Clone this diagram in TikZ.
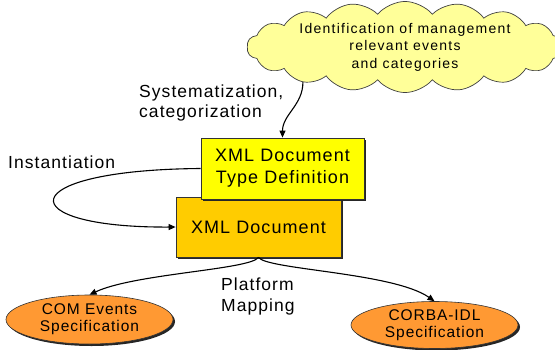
\documentclass[tikz,border=0pt]{standalone}
\usepackage{fontspec}
\setmainfont{Liberation Sans}
\newfontfamily\lblfont{Liberation Sans}[LetterSpace=6]
\newfontfamily\cloudfont{Liberation Sans}[LetterSpace=9]
\usetikzlibrary{shapes.geometric,shapes.symbols,arrows.meta,shadows}
\definecolor{cloudyellow}{HTML}{FFFF99}
\definecolor{dtdyellow}{HTML}{FFFF00}
\definecolor{docorange}{HTML}{FFCC00}
\definecolor{specorange}{HTML}{FF9933}
\begin{document}
\begin{tikzpicture}[x=1pt,y=1pt,
  boxshadow/.style={drop shadow={shadow xshift=2pt,shadow yshift=-2pt,opacity=1,fill=black!85}},
  docbox/.style={rectangle, draw=black!80, line width=0.8pt, inner sep=0pt, align=center,
    font=\lblfont\fontsize{18}{22}\selectfont, boxshadow},
  specnode/.style={ellipse, draw=black!80, line width=0.6pt, fill=specorange, inner sep=0pt,
    minimum width=167pt, align=center, font=\lblfont\fontsize{15.5}{17}\selectfont, boxshadow},
  cloudnode/.style={cloud, cloud puffs=18, cloud puff arc=100, cloud ignores aspect, draw=black!75, line width=0.7pt,
    fill=cloudyellow, inner sep=0pt, align=center, font=\cloudfont\fontsize{14}{17.5}\selectfont},
  lbl/.style={align=left, inner sep=0pt, font=\lblfont\fontsize{17.5}{20}\selectfont},
  conn/.style={line width=1.1pt, -{Triangle[length=7pt,width=6pt]}}]
\useasboundingbox (0,0) rectangle (555,-349);
\node[cloudnode, minimum width=316pt, minimum height=76pt] (cloud) at (405,-47)
  {Identification of management\\relevant events\\and categories};
\node[docbox, fill=docorange, minimum width=165pt, minimum height=60pt] (doc) at (258.5,-227) {XML Document};
\node[docbox, fill=dtdyellow, minimum width=163pt, minimum height=61pt] (dtd) at (282.5,-168.5)
  {XML Document\\Type Definition};
\node[specnode, minimum height=49pt] (com) at (89.5,-319.5) {COM Events\\Specification};
\node[specnode, minimum height=47pt] (corba) at (434.5,-325) {CORBA-IDL\\Specification};
\node[lbl, anchor=west] (sys) at (139,-103) {Systematization,\\categorization};
\node[lbl, anchor=west] (inst) at (8,-162) {Instantiation};
\node[lbl, anchor=west, font=\lblfont\fontsize{17.5}{21}\selectfont] (plat) at (221,-296.5) {Platform\\Mapping};
\draw[conn] (cloud.199) to[out=-90,in=90] (dtd.north);
\draw[conn] (dtd.west) .. controls (10,-170) and (10,-228) .. (doc.west);
\draw[conn] (doc.south) to[out=235,in=25,out distance=15pt,in distance=50pt] (com.north);
\draw[conn] (doc.south) to[out=-55,in=145,out distance=15pt,in distance=50pt] (corba.north);
\end{tikzpicture}
\end{document}
